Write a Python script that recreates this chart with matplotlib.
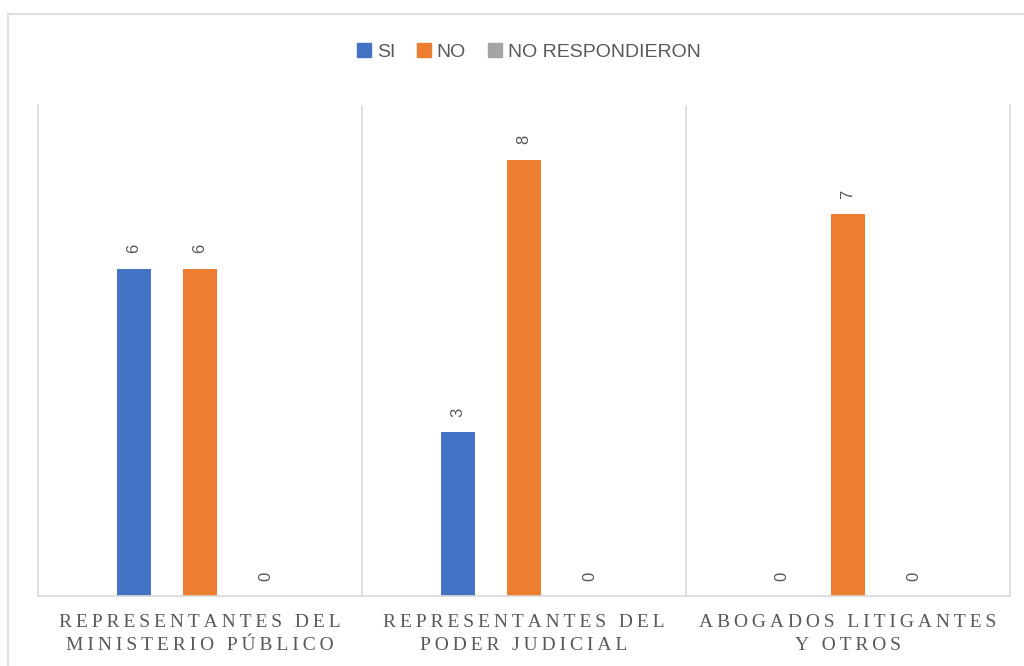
import matplotlib.pyplot as plt
import matplotlib.patches as mpatches
from matplotlib.lines import Line2D
import numpy as np

categories = ["REPRESENTANTES DEL\nMINISTERIO PÚBLICO",
              "REPRESENTANTES DEL\nPODER JUDICIAL",
              "ABOGADOS LITIGANTES\nY OTROS"]
series = ["SI", "NO", "NO RESPONDIERON"]
si = [6, 3, 0]
no = [6, 8, 7]
no_resp = [0, 0, 0]
colors = ["#4472c4", "#ed7d31", "#a5a5a5"]

grid_col = "#d9d9d9"
text_col = "#595959"


def spaced(s):
    # fake letter spacing with thin spaces
    return "\n".join("\u2009".join(line) for line in s.split("\n"))


fig = plt.figure(figsize=(10.24, 6.66), dpi=100)
ax = fig.add_axes([38/1024, 1-596/666, (1010-38)/1024, (596-105)/666])

x = np.arange(len(categories))
w = 0.105
off = 0.2037
for i, vals in enumerate([si, no, no_resp]):
    pos = x + (i - 1) * off
    bars = ax.bar(pos, vals, width=w, color=colors[i], zorder=2)
    for xp, v in zip(pos, vals):
        ax.annotate(str(v), (xp, v), xytext=(0, 11), textcoords="offset points",
                    rotation=90, ha="center", va="bottom", color=text_col,
                    fontsize=12, family="Liberation Sans")

ax.set_xlim(-0.5, 2.5)
ax.set_ylim(0, 9)
ax.set_yticks([])
ax.set_xticks(x)
ax.set_xticklabels([spaced(c) for c in categories], family=["Liberation Serif", "DejaVu Serif"],
                   fontsize=14, color=text_col, linespacing=1.45)
ax.tick_params(axis="x", length=0, pad=13)
for s in ["top"]:
    ax.spines[s].set_visible(False)
for s in ["left", "right", "bottom"]:
    ax.spines[s].set_color(grid_col)
    ax.spines[s].set_linewidth(1.2)
for xv in [0.5, 1.5]:
    ax.axvline(xv, color=grid_col, lw=1.2, zorder=1)

handles = [mpatches.Patch(color=c, label=l) for c, l in zip(colors, series)]
leg = fig.legend(handles=handles, loc="center", bbox_to_anchor=(529/1024, 1-52/666),
                 ncol=3, frameon=False, handlelength=0.7, handleheight=0.7,
                 handletextpad=0.3, columnspacing=1.15,
                 prop={"family": "Liberation Sans", "size": 14})
for t in leg.get_texts():
    t.set_color(text_col)

# outer chart border
fig.add_artist(Line2D([8/1024, 8/1024], [0, 1-14/666], color=grid_col, lw=1.2))
fig.add_artist(Line2D([8/1024, 1], [1-14/666, 1-14/666], color=grid_col, lw=1.2))

fig.savefig("out.png", dpi=100)
